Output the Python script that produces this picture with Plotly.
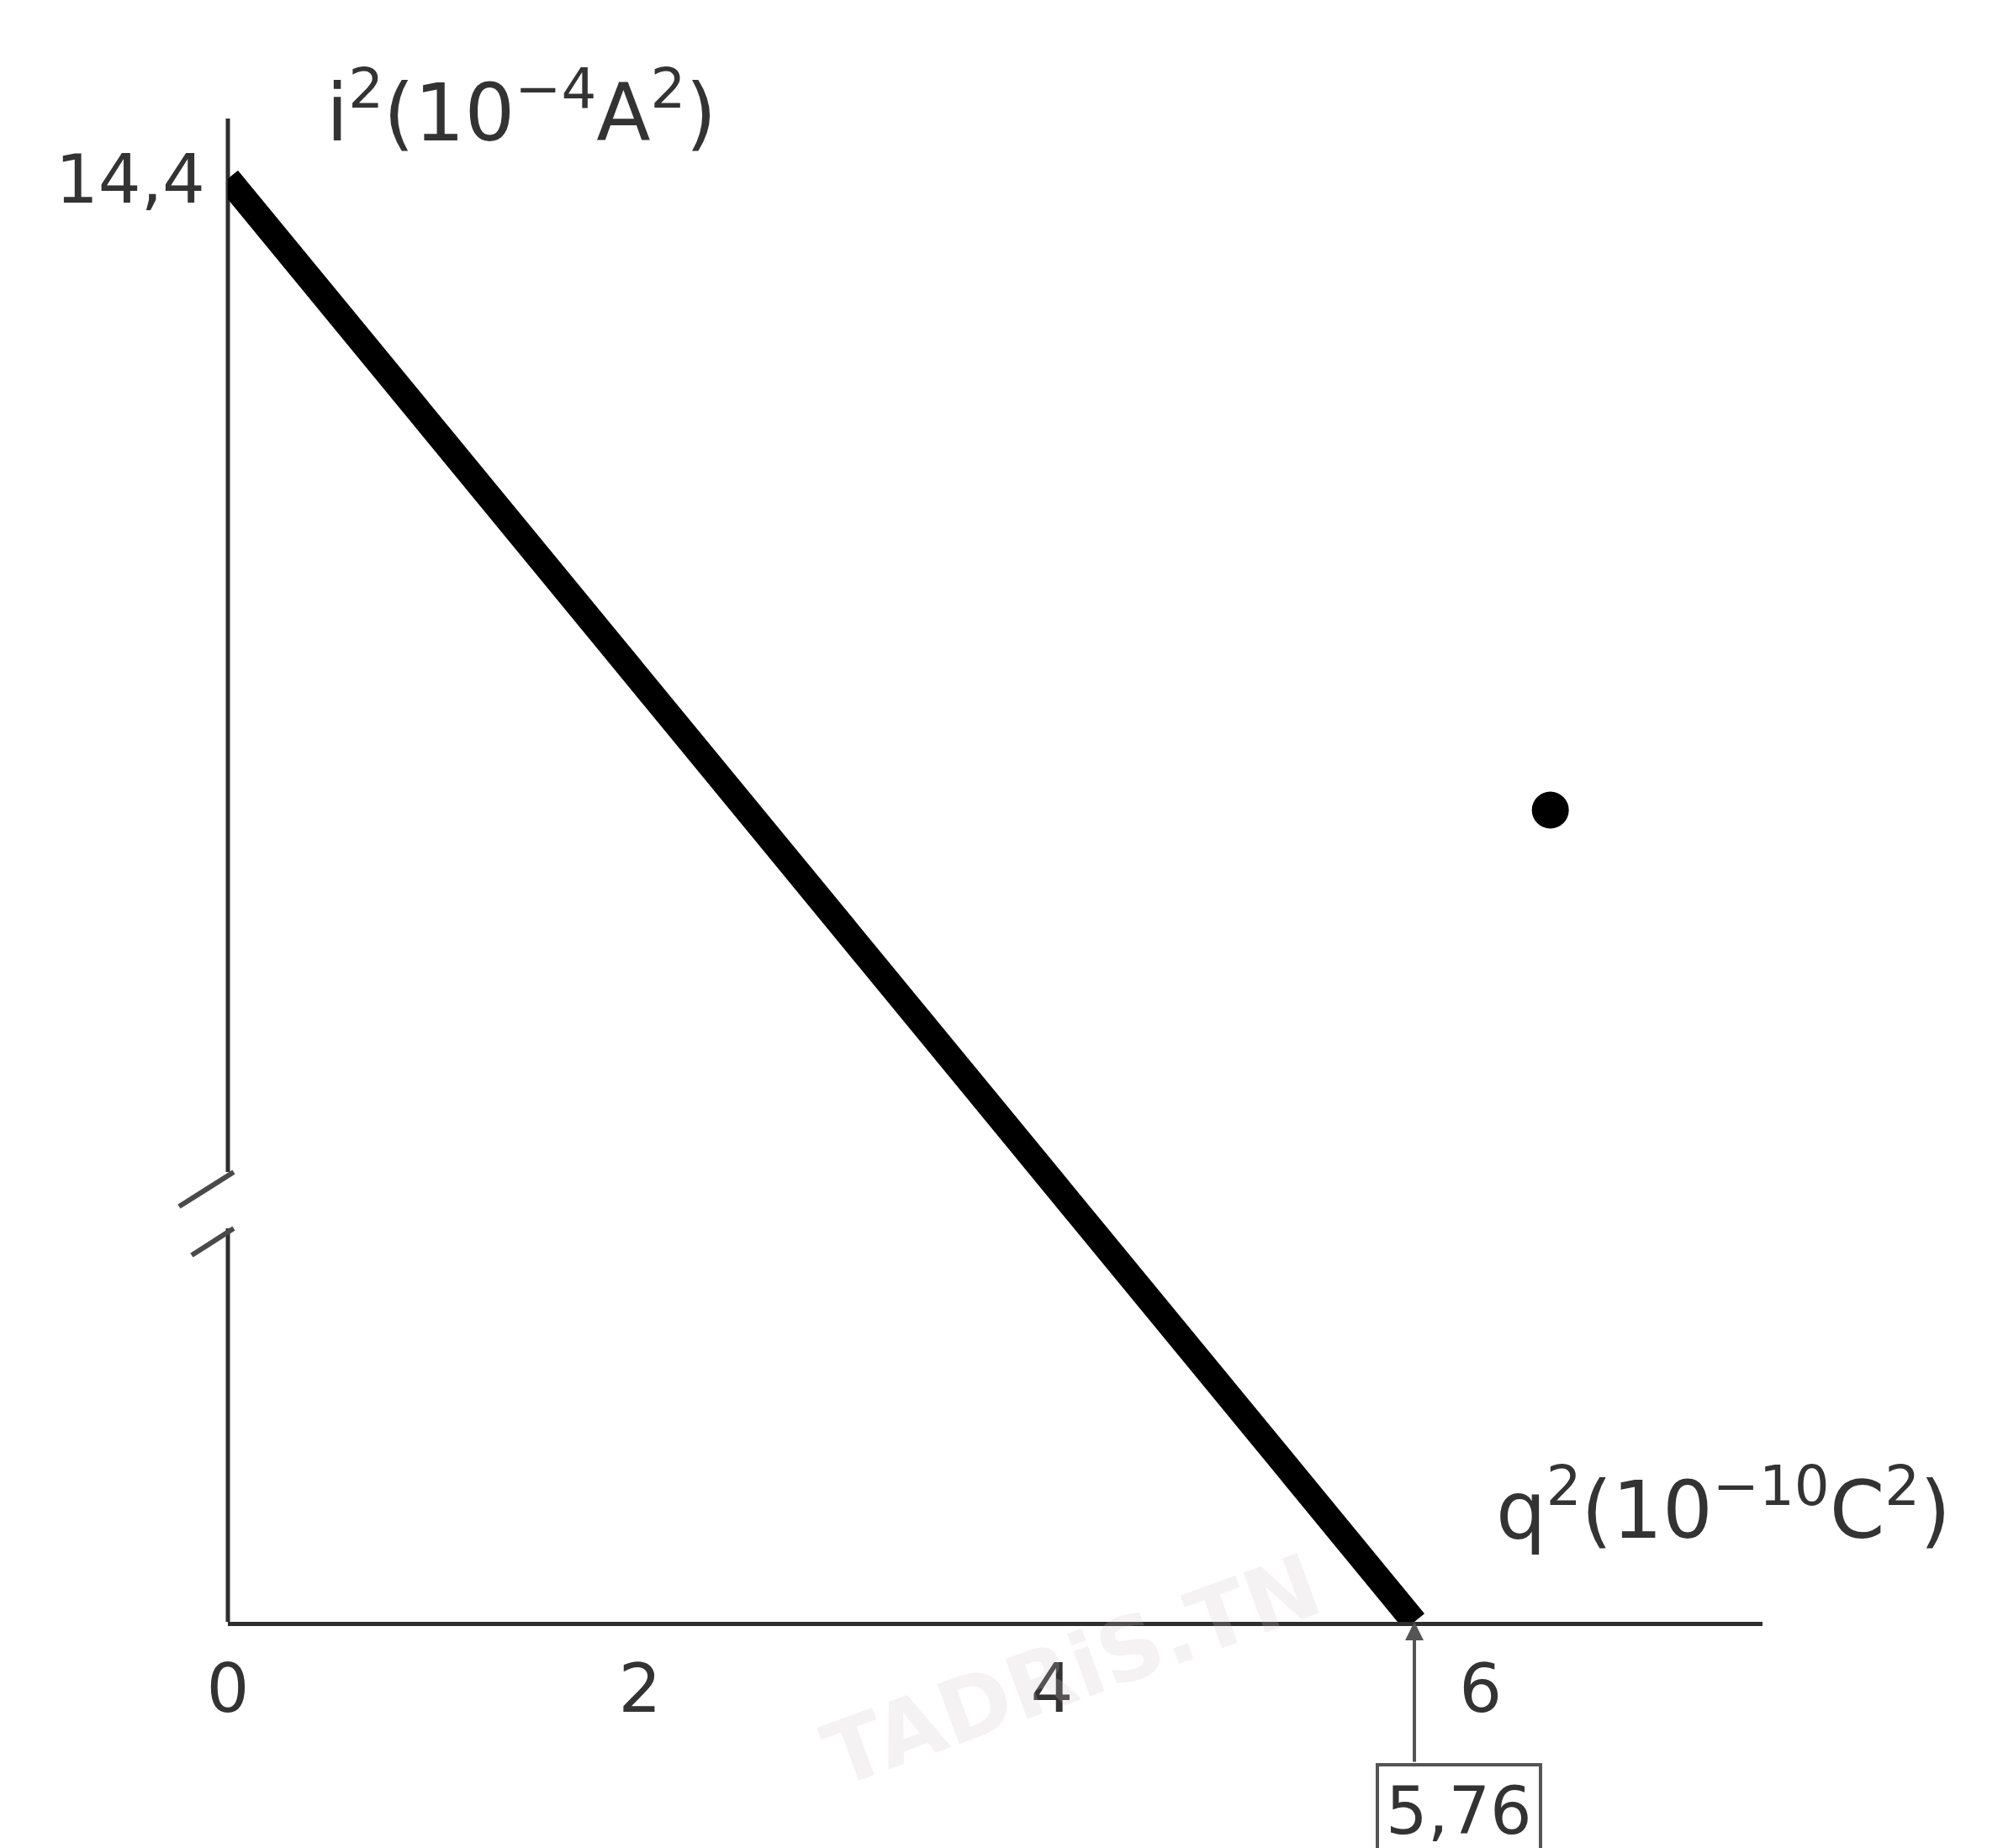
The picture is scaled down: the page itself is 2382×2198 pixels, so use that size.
import plotly.graph_objects as go

# i^2 versus q^2 : straight line from (0, 14.4) down to (5.76, 0)
q2_values = [0.0, 5.76]
i2_values = [14.4, 0.0]

# isolated point on the right
dot_q2 = [6.42]
dot_i2 = [8.1]

x_tick_vals = [0, 2, 4, 6]
x_tick_text = ["0", "2", "4", "\u20026"]
y_tick_vals = [14.4]
y_tick_text = ["14,4"]

x_intercept_label = "5,76"
x_title = "q<sup>2</sup>(10<sup>\u221210</sup>C<sup>2</sup>)"
y_title = "i<sup>2</sup>(10<sup>\u22124</sup>A<sup>2</sup>)"

FONT = "DejaVu Sans"
AXIS_COLOR = "#2e2e2e"
TEXT_COLOR = "#333333"

fig = go.Figure()

fig.add_trace(go.Scatter(
    x=q2_values, y=i2_values, mode="lines",
    line=dict(color="black", width=31),
    hoverinfo="skip", showlegend=False,
))
fig.add_trace(go.Scatter(
    x=dot_q2, y=dot_i2, mode="markers",
    marker=dict(color="black", size=44, symbol="circle"),
    hoverinfo="skip", showlegend=False,
))

fig.update_layout(
    width=2382, height=2198,
    margin=dict(l=271, r=286, t=141, b=269),
    plot_bgcolor="white", paper_bgcolor="white",
    font=dict(family=FONT, size=80, color=TEXT_COLOR),
    showlegend=False,
)

fig.update_xaxes(
    range=[0, 7.45], showgrid=False, zeroline=False,
    showline=True, linecolor=AXIS_COLOR, linewidth=5,
    tickvals=x_tick_vals, ticktext=x_tick_text, ticks="",
    ticklabelstandoff=6,
)
fig.update_yaxes(
    range=[0, 15], showgrid=False, zeroline=False,
    showline=False,
    tickvals=y_tick_vals, ticktext=y_tick_text, ticks="",
    ticklabelstandoff=26,
)

# vertical axis drawn in two pieces, with a break near the bottom
BREAK_LO, BREAK_HI = 0.2617, 0.2992
for y0, y1 in [(0.0, BREAK_LO), (BREAK_HI, 1.0)]:
    fig.add_shape(type="line", xref="paper", yref="paper",
                  x0=0, x1=0, y0=y0, y1=y1,
                  line=dict(color=AXIS_COLOR, width=5), layer="below")
fig.add_shape(type="line", xref="paper", yref="paper",
              x0=-0.0318, y0=0.2763, x1=0.0038, y1=BREAK_HI,
              line=dict(color="#4a4a4a", width=6))
fig.add_shape(type="line", xref="paper", yref="paper",
              x0=-0.0236, y0=0.2438, x1=0.0038, y1=BREAK_LO,
              line=dict(color="#4a4a4a", width=6))

# axis titles
fig.add_annotation(x=0.063, y=1.007, xref="paper", yref="paper", text=y_title,
                   showarrow=False, xanchor="left", yanchor="middle",
                   font=dict(size=94, color=TEXT_COLOR))
fig.add_annotation(x=0.825, y=0.078, xref="paper", yref="paper", text=x_title,
                   showarrow=False, xanchor="left", yanchor="middle",
                   font=dict(size=94, color=TEXT_COLOR))

# arrow from the boxed value up to the intercept on the horizontal axis
fig.add_annotation(x=q2_values[1], y=0, xref="x", yref="y",
                   text="", showarrow=True,
                   arrowhead=2, arrowsize=1.1, arrowwidth=4,
                   arrowcolor="#555555", ax=0, ay=168)
fig.add_annotation(x=q2_values[1], y=0, xref="x", yref="y",
                   text=x_intercept_label, showarrow=False,
                   xanchor="center", yanchor="top",
                   xshift=53, yshift=-168,
                   bordercolor="#555555", borderwidth=4, borderpad=8,
                   bgcolor="white",
                   font=dict(size=78, color=TEXT_COLOR))

# faint watermark
fig.add_annotation(x=0.55, y=-0.125, xref="paper", yref="paper",
                   text="<b>TADRiS.TN</b>", showarrow=False, textangle=-20,
                   font=dict(size=104, color="rgba(205,195,195,0.22)"))

fig.write_html("out.html")
